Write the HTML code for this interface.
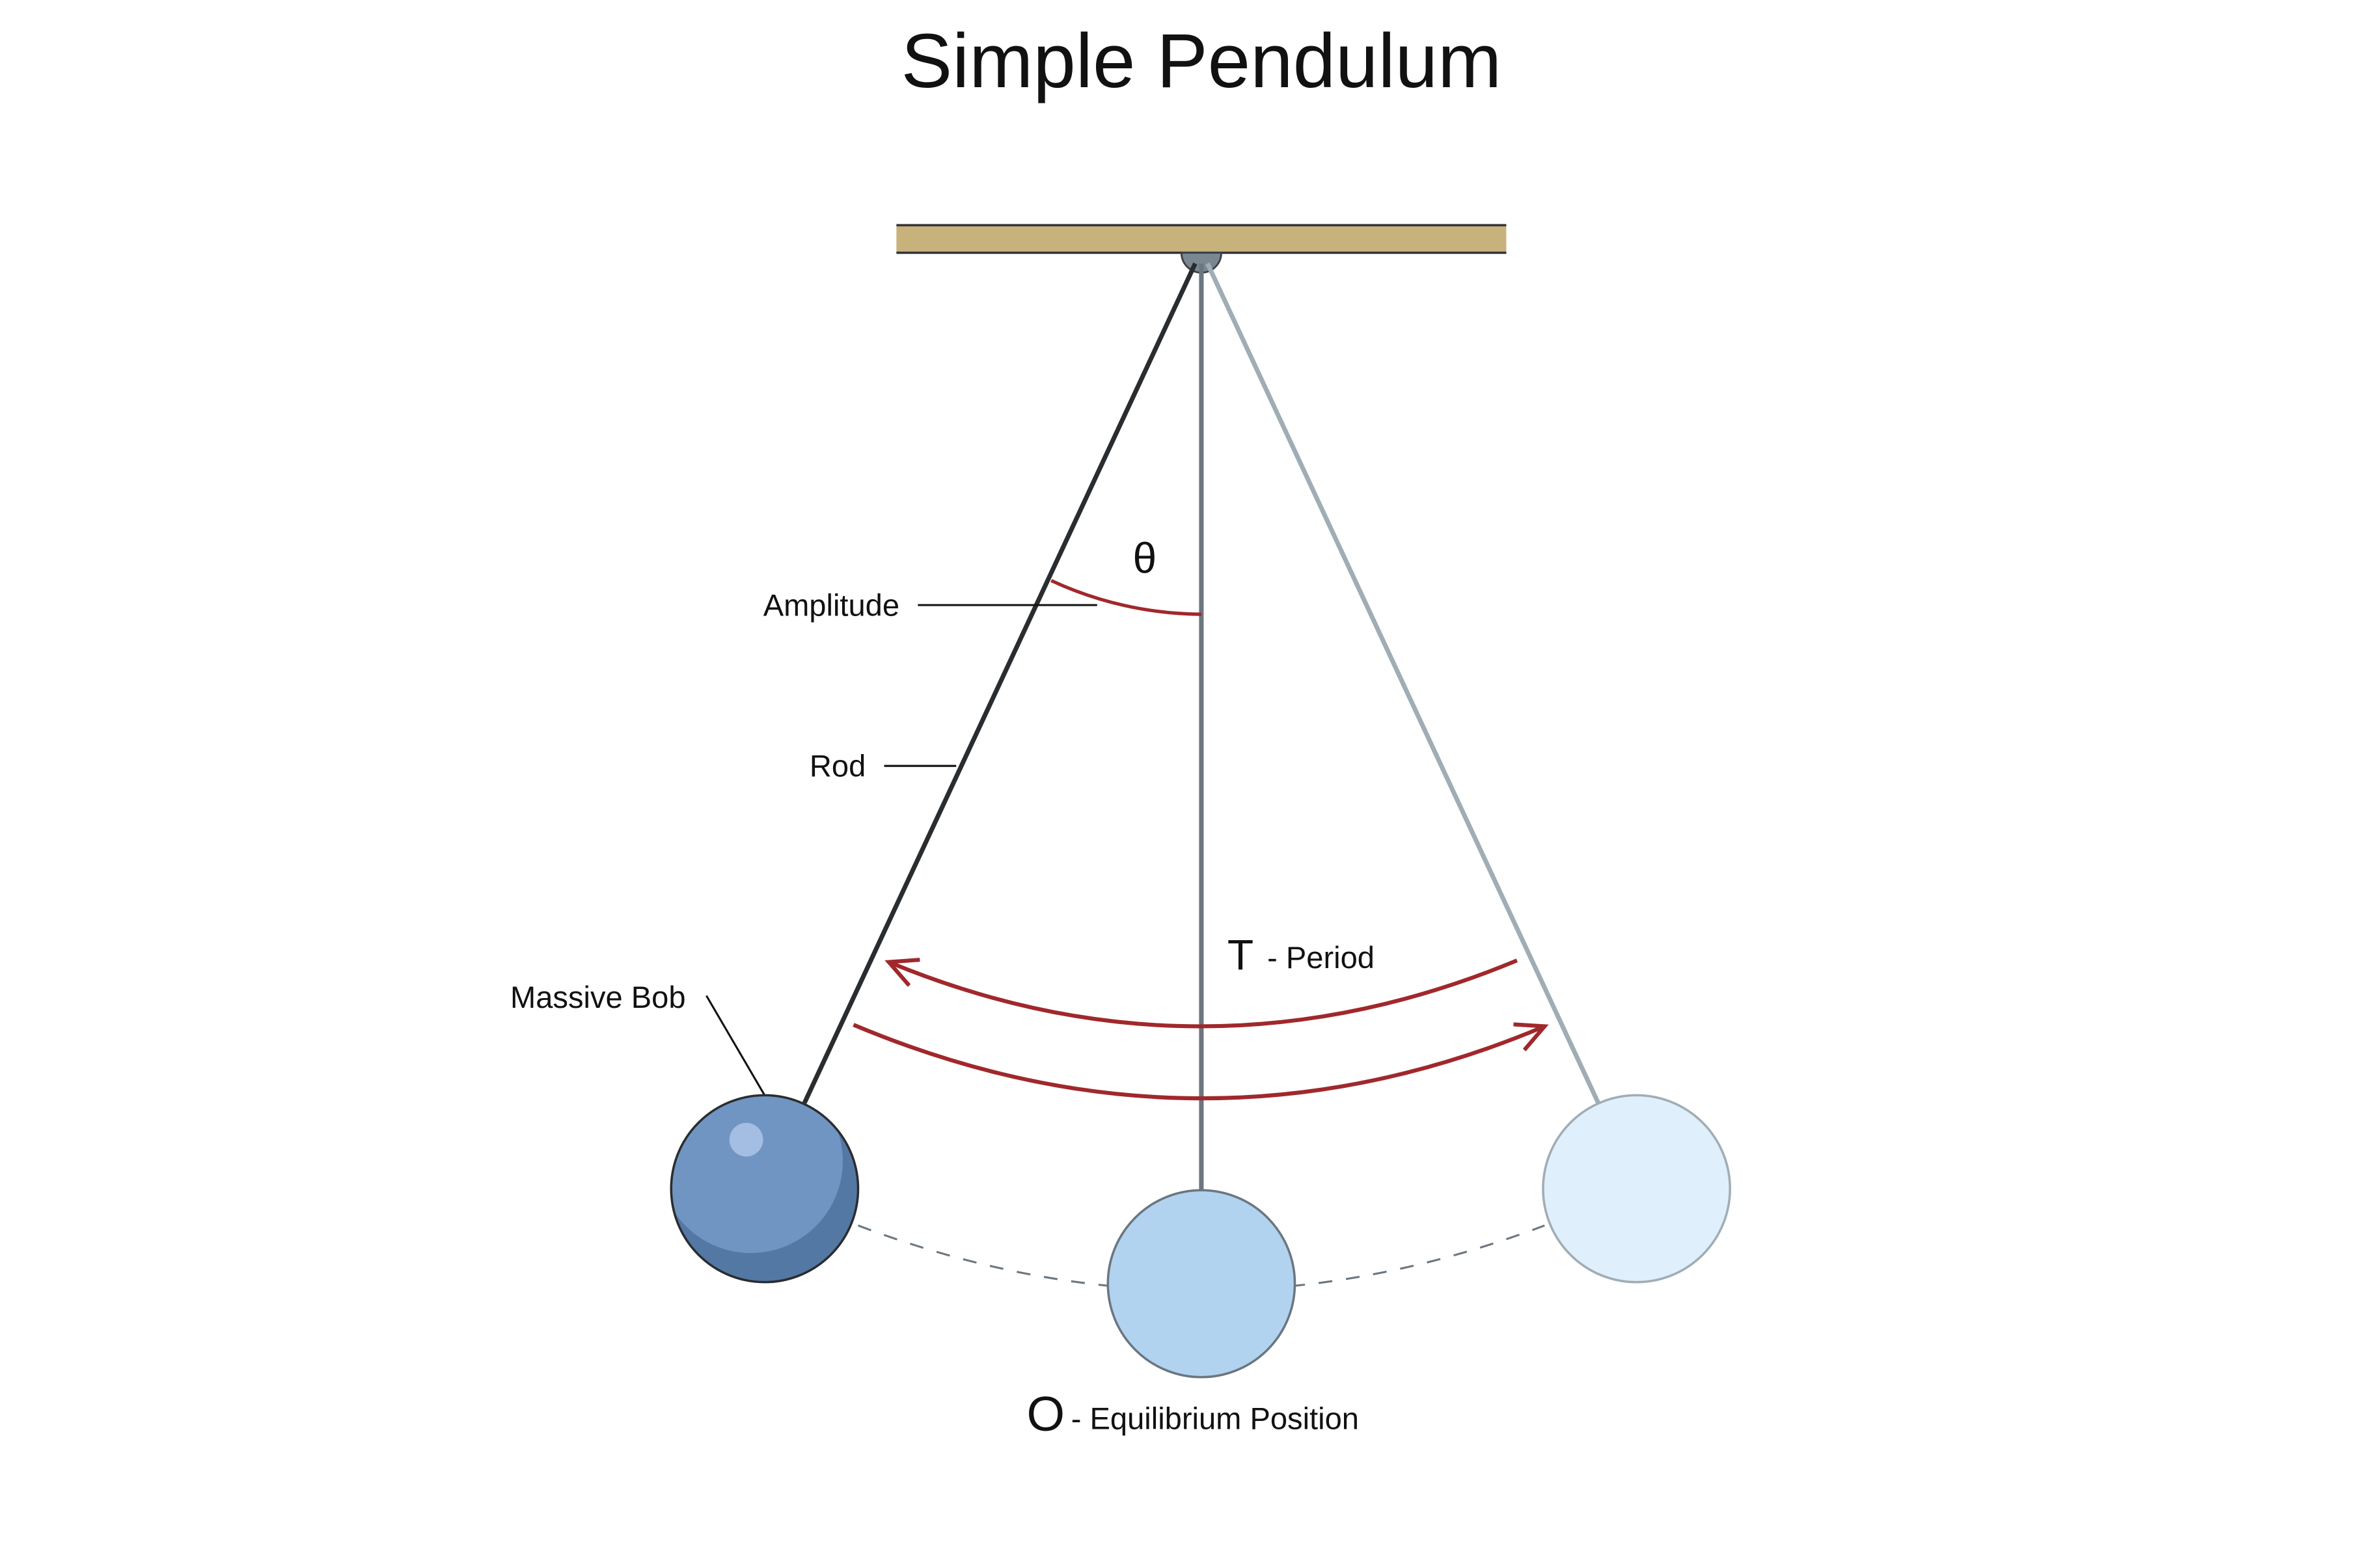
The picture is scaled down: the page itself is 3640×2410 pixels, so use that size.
<!DOCTYPE html>
<html><head><style>
html,body{margin:0;padding:0;background:#fff;}
svg{display:block;}
text{font-family:"Liberation Sans",sans-serif;fill:#111;}
</style></head><body>
<svg width="3640" height="2410" viewBox="0 0 1546 1023.6" preserveAspectRatio="none" xmlns="http://www.w3.org/2000/svg">
<defs>
<marker id="ah" viewBox="0 0 20 20" refX="17" refY="10" markerWidth="26" markerHeight="26" orient="auto" markerUnits="userSpaceOnUse">
<path d="M3,3 L17,10 L3,17" fill="none" stroke="#a0282c" stroke-width="2"/>
</marker>
<clipPath id="lb"><circle cx="499" cy="776" r="61"/></clipPath>
</defs>
<text x="784" y="57" font-size="50" text-anchor="middle">Simple Pendulum</text>
<rect x="585" y="147" width="398" height="18" fill="#c8b27c"/>
<line x1="585" y1="147" x2="983" y2="147" stroke="#333" stroke-width="1.5"/>
<line x1="585" y1="165" x2="983" y2="165" stroke="#333" stroke-width="1.5"/>
<path d="M771,165 A13,13 0 0 0 797,165 Z" fill="#7b8790" stroke="#3a4047" stroke-width="1.2"/>
<path d="M560,800 Q784,885 1008,800" fill="none" stroke="#6b7680" stroke-width="1.3" stroke-dasharray="9,9"/>
<line x1="780" y1="172" x2="525" y2="720" stroke="#2a2d30" stroke-width="3"/>
<line x1="784" y1="172" x2="784" y2="777" stroke="#6b7680" stroke-width="3"/>
<line x1="788" y1="172" x2="1043" y2="720" stroke="#a0adb5" stroke-width="3"/>
<path d="M686,379 A236,236 0 0 0 784,401" fill="none" stroke="#a0282c" stroke-width="2.2"/>
<text x="747" y="374" font-size="28" text-anchor="middle">θ</text>
<text x="587" y="402" font-size="20" text-anchor="end">Amplitude</text>
<line x1="599" y1="395" x2="716" y2="395" stroke="#111" stroke-width="1.3"/>
<text x="565" y="507" font-size="20" text-anchor="end">Rod</text>
<line x1="577" y1="500" x2="624" y2="500" stroke="#111" stroke-width="1.3"/>
<text x="333" y="658" font-size="20">Massive Bob</text>
<line x1="461" y1="650" x2="499" y2="715" stroke="#111" stroke-width="1.3"/>
<path d="M990,627 Q784,712.5 580,628" fill="none" stroke="#a0282c" stroke-width="2.6" marker-end="url(#ah)"/>
<path d="M557,669 Q784,764.5 1008,670" fill="none" stroke="#a0282c" stroke-width="2.6" marker-end="url(#ah)"/>
<text x="801" y="633" font-size="28">T</text>
<text x="827" y="632" font-size="20">- Period</text>
<g clip-path="url(#lb)">
<circle cx="499" cy="776" r="61" fill="#5478a4"/>
<circle cx="490" cy="758" r="60" fill="#7095c2"/>
</g>
<circle cx="499" cy="776" r="61" fill="none" stroke="#2a2d30" stroke-width="1.5"/>
<circle cx="487" cy="744" r="11" fill="#a3bde3"/>
<circle cx="784" cy="838" r="61" fill="#b1d3ef" stroke="#6b7680" stroke-width="1.5"/>
<circle cx="1068" cy="776" r="61" fill="#e0effc" stroke="#a0adb5" stroke-width="1.5"/>
<text x="670" y="934" font-size="32">O</text>
<text x="699" y="933" font-size="20">- Equilibrium Position</text>
</svg>
</body></html>
